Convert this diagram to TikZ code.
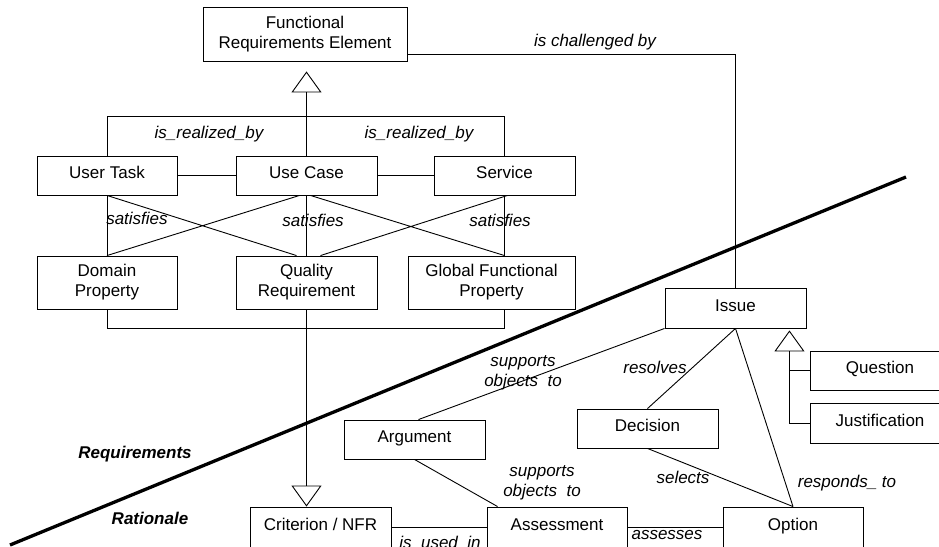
\documentclass[tikz,border=0pt]{standalone}
\usepackage{fontspec}
\setmainfont{Liberation Sans}
\usetikzlibrary{arrows.meta}
\newcommand\diagfont{\fontsize{17}{20}\selectfont}
\tikzset{
  boxbase/.style={draw,minimum width=141pt,minimum height=39pt,inner sep=0pt,align=center,font=\diagfont},
  box/.style={boxbase,text height=12pt,text depth=6pt},
  box2/.style={boxbase,minimum height=53pt},
  lbl/.style={inner sep=0pt,align=center,font=\diagfont\itshape},
  side/.style={inner sep=0pt,font=\diagfont\bfseries\itshape},
  gen/.style={-{Triangle[open,width=30pt,length=21pt]}}
}
\begin{document}
\begin{tikzpicture}[x=1pt,y=-1pt,line width=.9pt]
\useasboundingbox(0,0)rectangle(939,546);
\node[box2,minimum width=204pt,minimum height=54pt](fre)at(305,34){Functional\\Requirements Element};
\node[box,minimum width=140pt](ut)at(107,175.5){User Task};
\node[box](uc)at(306.5,175.5){Use Case};
\node[box](sv)at(504.5,175.5){Service};
\node[box2,minimum width=140pt](dp)at(107,282.5){Domain\\Property};
\node[box2](qr)at(306.5,282.5){Quality\\Requirement};
\node[box2,minimum width=167pt](gfp)at(491.5,282.5){Global Functional\\Property};
\node[box,minimum height=40pt](is)at(735.5,308){Issue};
\node[box,minimum width=140pt](qs)at(880,370.5){Question};
\node[box,minimum width=140pt,minimum height=40pt](js)at(880,423){Justification};
\node[box](ar)at(414.5,439.5){Argument};
\node[box](dc)at(647.5,428.5){Decision};
\node[box,minimum height=40pt](cr)at(320.5,527){Criterion / NFR};
\node[box,minimum width=140pt,minimum height=40pt](as)at(557,527){Assessment};
\node[box,minimum width=140pt,minimum height=40pt](op)at(793,527){Option};
\draw[gen,shorten >=10pt](uc.north)--(uc.north|-fre.south);
\draw(ut.north)--++(0,-39)-|(sv.north);
\node[lbl](rb1)at(209,134){is\_realized\_by};
\node[lbl](rb2)at(419,134){is\_realized\_by};
\draw(ut)--(uc) (uc)--(sv);
\draw(ut.south)--(dp.north) (uc.south)--(qr.north) (sv.south)--(sv.south|-gfp.north);
\draw(ut.south)--([xshift=-10pt]qr.north) ([xshift=-7pt]uc.south)--(dp.north);
\draw([xshift=4pt]uc.south)--(sv.south|-gfp.north) ([xshift=3pt]sv.south)--([xshift=14pt]qr.north);
\node[lbl](st1)at(137,218){satisfies};
\node[lbl](st2)at(313,220){satisfies};
\node[lbl](st3)at(500,220){satisfies};
\draw(dp.south)--++(0,19)-|(sv.south|-gfp.south);
\draw[gen](qr.south)--(qr.south|-cr.north);
\draw([yshift=7pt]fre.south east)-|(is.north);
\node[lbl](chl)at(595,42){is challenged by};
\path([xshift=-17pt]is.south east)coordinate(gj);
\draw[gen,shorten >=2pt](js.west)-|(gj);
\draw(qs.west)--(qs.west-|gj);
\draw(is.south west)--([xshift=4pt]ar.north);
\draw(is.south)--(dc.north);
\draw(is.south)--(op.north);
\draw(dc.south)--(op.north);
\draw(ar.south)--([xshift=11pt]as.north west);
\draw(cr)--(as) (as)--(op);
\node[lbl](sp1)at(523,373){supports\\objects\ \ to};
\node[lbl](rs)at(655,367){resolves};
\node[lbl](sp2)at(542,483){supports\\objects\ \ to};
\node[lbl](sl)at(683,477){selects};
\node[lbl](rp)at(847,483){responds\_ to};
\node[lbl](ui)at(440,543){is\_used\_in};
\node[lbl](ss)at(667,535){assesses};
\draw[line width=3.3pt](10,545)--(906,177);
\node[side](rq)at(135,454){Requirements};
\node[side](rt)at(150,518){Rationale};
\end{tikzpicture}
\end{document}
